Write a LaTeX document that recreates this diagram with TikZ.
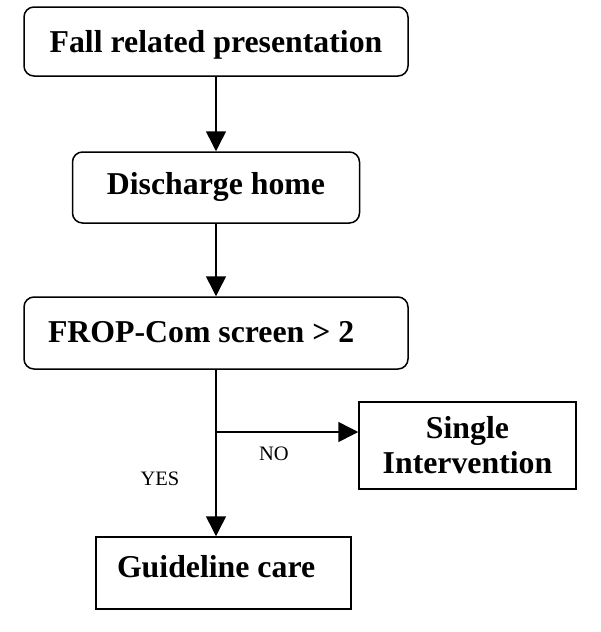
\documentclass[tikz,border=0pt]{standalone}
\usepackage{fontspec}
\setmainfont{Liberation Serif}
\usepackage{tikz}
\usetikzlibrary{arrows.meta}
\tikzstyle{block} = [rectangle, draw, fill=white, rounded corners=10pt,
                 line width=1.5pt, inner sep=0pt, font=\fontsize{31.8}{35}\selectfont\bfseries]
\tikzstyle{sqblock} = [block, sharp corners]
\tikzstyle{branch} = [line width=1.5pt, draw, -{Triangle[length=20pt,width=20pt]}]
\tikzstyle{lbl} = [font=\fontsize{20.5}{24}\selectfont]

\begin{document}
\begin{tikzpicture}[x=1pt,y=-1pt]

\useasboundingbox (0,0) rectangle (600,632);

\node [block, minimum width=384pt, text height=45pt, text depth=24pt] at (216,41.5) (fall) {Fall related presentation};
\node [block, minimum width=287pt, text height=42pt, text depth=29pt] at (216,187.5) (home) {Discharge home};
\node [block, text width=336pt, inner xsep=24pt, align=flush left, text height=45pt, text depth=27pt] at (216,333) (frop) {FROP-Com screen > 2};
\node [sqblock, minimum width=217pt, minimum height=87pt, align=center] at (467.5,445.5) (single) {Single\\Intervention};
\node [sqblock, text width=213pt, inner xsep=21pt, align=flush left, text height=40pt, text depth=32pt] at (223.5,573) (guide) {Guideline care};

\coordinate (split) at (216,432);

\node [lbl] at (274,454) (no) {NO};
\node [lbl] at (160,479) (yes) {YES};

\path [branch] (fall.south) -- (home.north);
\path [branch] (home.south) -- (frop.north);
\path [branch] (frop.south) -- (frop.south |- guide.north);
\path [branch] (split) -- (split -| single.west);

\end{tikzpicture}
\end{document}
